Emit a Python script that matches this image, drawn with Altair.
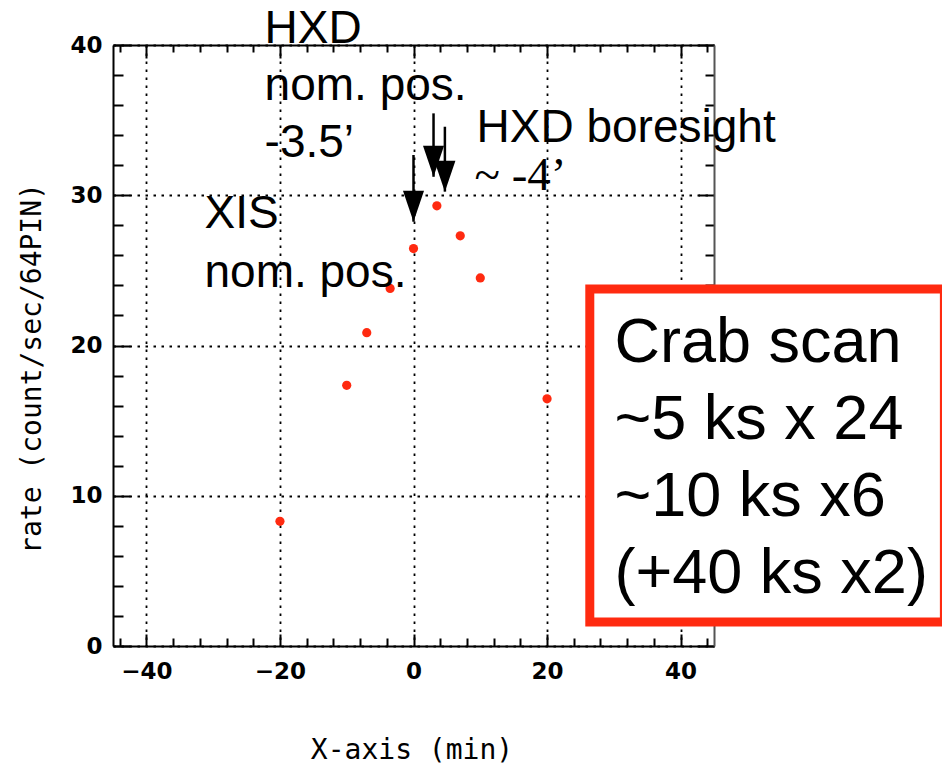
import altair as alt
import pandas as pd

# ---- data ----
scan_offset = [-20, -10, -7, -3.5, 0, 3.5, 7, 10, 20]          # X-axis (min)
scan_rate = [8.3, 17.35, 20.85, 23.8, 26.45, 29.3, 27.3, 24.5, 16.45]  # count/sec/64PIN

x_major = [-40, -20, 0, 20, 40]
x_all_ticks = list(range(-44, 45, 4))
y_major = [0, 10, 20, 30, 40]
y_all_ticks = list(range(0, 41, 2))

# annotation arrows (data units)
arrow_x = [0, 3.0, 4.7]
arrow_tip = [28.24, 31.23, 30.24]
arrow_top = [32.68, 35.45, 34.56]

# text annotations (data units)
ann_text = ["HXD\nnom. pos.\n-3.5’", "XIS\nnom. pos.", "HXD boresight", "~ -4’"]
ann_x = [-22.3, -31.3, 9.44, 9.14]
ann_y = [40.13, 27.8, 33.56, 30.35]

box_text = "Crab scan\n~5 ks x 24\n~10 ks x6\n(+40 ks x2)"

W = 601
H = 601
RED = "#ff2a10"

xs = alt.Scale(domain=[-45, 45], nice=False, zero=False)
ys = alt.Scale(domain=[0, 40], nice=False, zero=False)

df = pd.DataFrame({"x": scan_offset, "rate": scan_rate})

x_tick_size_in = {"condition": {"test": "datum.value % 20 === 0", "value": 12}, "value": 8}
y_tick_size_in = {"condition": {"test": "datum.value % 10 === 0", "value": 17}, "value": 10}
x_tick_size_top = {"condition": {"test": "datum.value % 20 === 0", "value": 13}, "value": 7}
y_tick_size_right = {"condition": {"test": "datum.value % 10 === 0", "value": 16}, "value": 9}

grid_kw = dict(grid=True, gridColor="black", gridWidth=1.8, gridDash=[2.5, 5.5], gridOpacity=1)

main_x_axis = alt.Axis(
    orient="bottom", values=x_major, ticks=False, tickSize=0, domain=True,
    domainColor="black", domainWidth=2, labelFont="DejaVu Sans", labelFontWeight="bold",
    labelFontSize=23, labelColor="black", labelPadding=14,
    title="X-axis (min)", titleFont="DejaVu Sans Mono", titleFontSize=28,
    titleFontWeight="normal", titleColor="black", titleX=298.5, titleY=112,
    titleAlign="center", titleBaseline="alphabetic", zindex=0, **grid_kw)
main_y_axis = alt.Axis(
    orient="left", values=y_major, ticks=False, tickSize=0, domain=True,
    domainColor="black", domainWidth=2, labelFont="DejaVu Sans", labelFontWeight="bold",
    labelFontSize=23, labelColor="black", labelPadding=11,
    title="rate (count/sec/64PIN)", titleFont="DejaVu Sans Mono", titleFontSize=28,
    titleFontWeight="normal", titleColor="black", titleX=-73, titleY=323,
    titleAngle=270, titleAlign="center", titleBaseline="alphabetic", zindex=0, **grid_kw)

points = alt.Chart(df).mark_circle(size=85, color=RED, opacity=1).encode(
    x=alt.X("x:Q", scale=xs, axis=main_x_axis),
    y=alt.Y("rate:Q", scale=ys, axis=main_y_axis),
)

# inward ticks on bottom and left edges
ticks_a = alt.Chart(df).mark_point(opacity=0).encode(
    x=alt.X("x:Q", scale=xs, axis=alt.Axis(
        orient="top", offset=-H, values=x_all_ticks, labels=False, grid=False, domain=False,
        ticks=True, tickSize=x_tick_size_in, tickWidth=2, tickColor="black", title=None, zindex=0)),
    y=alt.Y("rate:Q", scale=ys, axis=alt.Axis(
        orient="right", offset=-W, values=y_all_ticks, labels=False, grid=False, domain=False,
        ticks=True, tickSize=y_tick_size_in, tickWidth=2, tickColor="black", title=None, zindex=0)),
)

# inward ticks on top and right edges, with their frame lines
ticks_b = alt.Chart(df).mark_point(opacity=0).encode(
    x=alt.X("x:Q", scale=xs, axis=alt.Axis(
        orient="bottom", offset=-H, values=x_all_ticks, labels=False, grid=False, domain=True,
        domainColor="black", domainWidth=2,
        ticks=True, tickSize=x_tick_size_top, tickWidth=2, tickColor="black", title=None, zindex=0)),
    y=alt.Y("rate:Q", scale=ys, axis=alt.Axis(
        orient="left", offset=-W, values=y_all_ticks, labels=False, grid=False, domain=True,
        domainColor="#555555", domainWidth=2,
        ticks=True, tickSize=y_tick_size_right, tickWidth=2, tickColor="black", title=None, zindex=0)),
)

arrows_df = pd.DataFrame({"ax": arrow_x, "tip": arrow_tip, "top": arrow_top})
shafts = alt.Chart(arrows_df).mark_rule(color="black", strokeWidth=2.5).encode(
    x=alt.X("ax:Q", scale=xs, axis=None),
    y=alt.Y("top:Q", scale=ys, axis=None),
    y2="tip:Q",
)
heads = alt.Chart(arrows_df).mark_point(
    shape="M-0.68,-2L0.68,-2L0,0Z", filled=True, size=961, color="black", opacity=1
).encode(
    x=alt.X("ax:Q", scale=xs, axis=None),
    y=alt.Y("tip:Q", scale=ys, axis=None),
)

ann_df = pd.DataFrame({"t": ann_text, "ax": ann_x, "ay": ann_y})
ann_styles = [
    dict(font="Liberation Sans", fontSize=46, lineHeight=57),
    dict(font="Liberation Sans", fontSize=46, lineHeight=59),
    dict(font="Liberation Sans", fontSize=46, lineHeight=57),
    dict(font="Liberation Serif", fontSize=47, lineHeight=57),
]
ann_layers = []
for i, st in enumerate(ann_styles):
    ann_layers.append(
        alt.Chart(ann_df.iloc[[i]]).mark_text(
            align="left", baseline="alphabetic", color="black", lineBreak="\n", **st
        ).encode(
            x=alt.X("ax:Q", scale=xs, axis=None),
            y=alt.Y("ay:Q", scale=ys, axis=None),
            text="t:N",
        )
    )

box_df = pd.DataFrame({"bx": [26.4], "bx2": [79.5], "by": [23.76], "by2": [1.6],
                       "tx": [30.1], "ty": [18.9], "t": [box_text]})
box = alt.Chart(box_df).mark_rect(fill="white", stroke=RED, strokeWidth=9).encode(
    x=alt.X("bx:Q", scale=xs, axis=None), x2="bx2:Q",
    y=alt.Y("by:Q", scale=ys, axis=None), y2="by2:Q",
)
box_label = alt.Chart(box_df).mark_text(
    align="left", baseline="alphabetic", color="black", lineBreak="\n",
    font="Liberation Sans", fontSize=63, lineHeight=77,
).encode(
    x=alt.X("tx:Q", scale=xs, axis=None),
    y=alt.Y("ty:Q", scale=ys, axis=None),
    text="t:N",
)

chart = alt.layer(points, ticks_a, ticks_b, shafts, heads, *ann_layers, box, box_label).resolve_axis(
    x="independent", y="independent"
).properties(
    width=W, height=H,
    autosize=alt.AutoSizeParams(type="none"),
    padding={"left": 105, "top": 37, "right": 228, "bottom": 121},
    background="white",
).configure_view(stroke=None)

chart.save("out.html", embed_options={"renderer": "svg", "actions": False})
